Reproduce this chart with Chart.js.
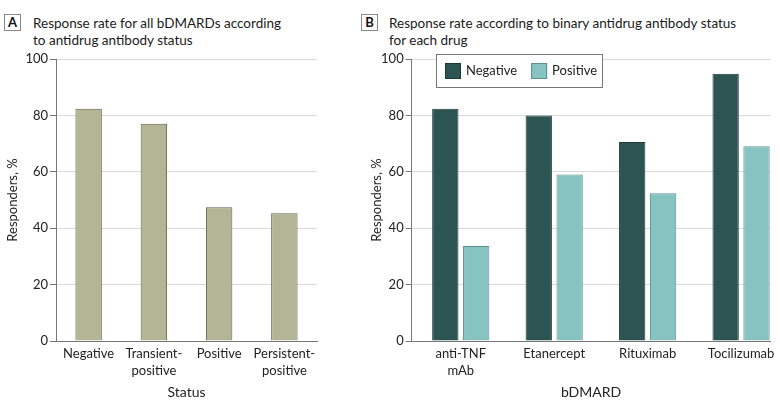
<!DOCTYPE html>
<html><head><meta charset="utf-8">
<script src="https://cdn.jsdelivr.net/npm/chart.js@4.4.1/dist/chart.umd.min.js"></script>
<style>
html,body{margin:0;padding:0;background:#fff;width:780px;height:411px;overflow:hidden;font-family:Lato,sans-serif;}
.tag{position:absolute;width:15px;height:15px;border:1px solid #8a8a8a;font-weight:bold;font-size:13px;line-height:15px;text-align:center;color:#111;}
.ttl{position:absolute;font-size:13.5px;line-height:17px;color:#1a1a1a;white-space:nowrap;}
canvas{position:absolute;top:0;}
</style></head><body>
<div class="tag" style="left:4px;top:14px">A</div>
<div class="ttl" style="left:33px;top:15px">Response rate for all bDMARDs according<br>to antidrug antibody status</div>
<div class="tag" style="left:361px;top:14px">B</div>
<div class="ttl" style="left:389px;top:15px">Response rate according to binary antidrug antibody status<br>for each drug</div>
<canvas id="a" width="360" height="411" style="left:0"></canvas>
<canvas id="b" width="425" height="411" style="left:355px"></canvas>
<script>
// ---- data ----
const statusLabels = ['Negative', ['Transient-', 'positive'], 'Positive', ['Persistent-', 'positive']];
const statusValues = [82.4, 77.0, 47.4, 45.3];
const drugLabels = [['anti-TNF', 'mAb'], 'Etanercept', 'Rituximab', 'Tocilizumab'];
const negativeValues = [82.4, 80.0, 70.6, 94.8];
const positiveValues = [33.7, 59.0, 52.4, 69.1];
const seriesNames = ['Negative', 'Positive'];

Chart.defaults.font.family = 'Lato';
Chart.defaults.color = '#222';

function yAxis(width) {
  return {
    min: 0, max: 100,
    ticks: { stepSize: 20, color: '#222', font: { size: 13 }, padding: 2 },
    grid: { color: '#dadada', lineWidth: 1, tickLength: 6, tickColor: '#777', drawTicks: true },
    border: { display: true, color: '#777', width: 1 },
    title: { display: true, text: 'Responders, %', color: '#222', font: { size: 13 }, padding: { top: 5, bottom: 0 } },
    afterFit: s => { s.width = width; }
  };
}
function xTitle(text) {
  return { display: true, text: text, color: '#222', font: { size: 14 }, padding: { top: 0, bottom: 10 } };
}

new Chart(document.getElementById('a'), {
  type: 'bar',
  data: {
    labels: statusLabels,
    datasets: [{
      data: statusValues,
      backgroundColor: '#b3b595', borderColor: '#5d604c', borderWidth: 1,
      barPercentage: 0.405, categoryPercentage: 1
    }]
  },
  options: {
    responsive: false, animation: false, devicePixelRatio: 1, events: [],
    layout: { padding: { left: 0, top: 59, right: 43, bottom: 0 } },
    plugins: { legend: { display: false }, tooltip: { enabled: false } },
    scales: {
      x: {
        grid: { display: false, drawTicks: false }, border: { display: true, color: '#777', width: 1 },
        ticks: { autoSkip: false, maxRotation: 0, padding: 5, font: { size: 13, lineHeight: 1.25 }, color: '#222' },
        title: xTitle('Status'),
        afterFit: s => { s.height = 70; }
      },
      y: yAxis(56)
    }
  }
});

const boxLegend = {
  id: 'boxLegend',
  afterDraw(chart) {
    const ctx = chart.ctx, a = chart.chartArea;
    const x0 = Math.round(a.left + 24), y0 = Math.round(a.top - 5), w = 166, h = 33;
    ctx.save();
    ctx.fillStyle = '#fff'; ctx.fillRect(x0, y0, w, h);
    ctx.strokeStyle = '#777'; ctx.lineWidth = 1; ctx.strokeRect(x0 + 0.5, y0 + 0.5, w, h);
    ctx.font = '13px Lato'; ctx.textBaseline = 'middle';
    let x = x0 + 9;
    chart.data.datasets.forEach(ds => {
      ctx.fillStyle = ds.backgroundColor; ctx.fillRect(x, y0 + 9, 16, 16);
      ctx.strokeStyle = ds.borderColor; ctx.strokeRect(x + 0.5, y0 + 9.5, 15, 15);
      ctx.fillStyle = '#222'; ctx.fillText(ds.label, x + 21, y0 + 17);
      x += 21 + ctx.measureText(ds.label).width + 14;
    });
    ctx.restore();
  }
};

new Chart(document.getElementById('b'), {
  type: 'bar',
  data: {
    datasets: [
      { label: seriesNames[0], data: negativeValues.map((v, i) => ({ x: i, y: v })),
        backgroundColor: '#2b5453', borderColor: '#1c3a3a', borderWidth: 1,
        barPercentage: 0.852, categoryPercentage: 0.661 },
      { label: seriesNames[1], data: positiveValues.map((v, i) => ({ x: i, y: v })),
        backgroundColor: '#86c3c1', borderColor: '#5e8f8e', borderWidth: 1,
        barPercentage: 0.852, categoryPercentage: 0.661 }
    ]
  },
  options: {
    responsive: false, animation: false, devicePixelRatio: 1, events: [],
    layout: { padding: { left: 9, top: 59, right: 8, bottom: 0 } },
    plugins: { legend: { display: false }, tooltip: { enabled: false } },
    scales: {
      x: {
        type: 'linear', min: -0.525, max: 3.314, offset: false,
        grid: { display: false, offset: false, drawTicks: false }, border: { display: true, color: '#777', width: 1 },
        afterBuildTicks: s => { s.ticks = drugLabels.map((_, i) => ({ value: i })); },
        ticks: { autoSkip: false, maxRotation: 0, padding: 5, font: { size: 13, lineHeight: 1.25 }, color: '#222',
                 callback: v => drugLabels[v] },
        title: xTitle('bDMARD'),
        afterFit: s => { s.height = 70; }
      },
      y: yAxis(47.7)
    }
  },
  plugins: [boxLegend]
});
</script>
</body></html>
